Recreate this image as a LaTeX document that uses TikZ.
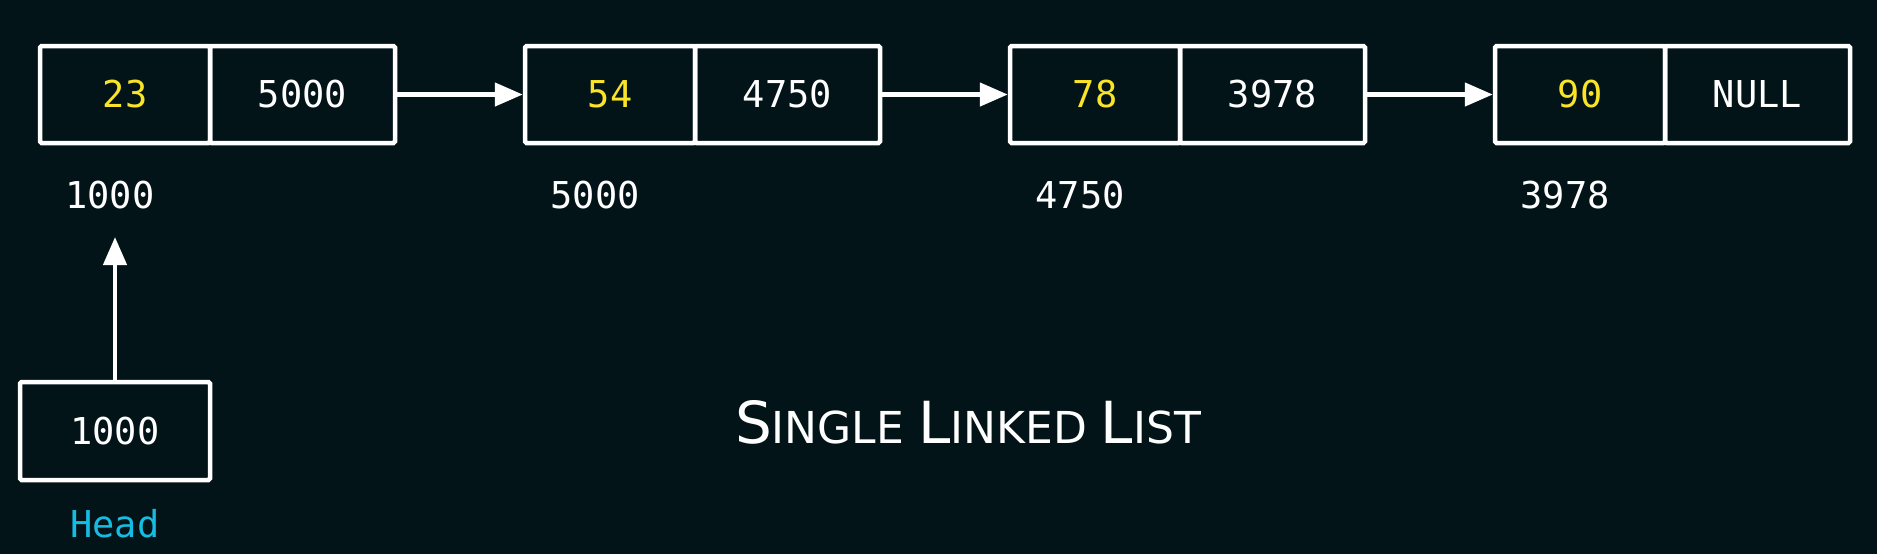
\documentclass[tikz,border=0pt]{standalone}
\usepackage{fontspec}
\setmainfont{DejaVu Sans}
\setmonofont{DejaVu Sans Mono}
\usetikzlibrary{arrows.meta,positioning,calc}
\definecolor{BgClr}{RGB}{2,20,24}
\definecolor{ValueClr}{RGB}{250,228,40}
\definecolor{HeadClr}{RGB}{22,188,226}
\newcommand{\TitleSC}[2]{{\fontsize{29pt}{31pt}\selectfont #1}{\fontsize{22pt}{25pt}\selectfont #2}}

\begin{document}
\begin{tikzpicture}[x=0.5pt,y=-0.5pt,
  cell/.style={draw=white,line width=2.25pt,rounded corners=0.8pt,inner sep=0pt,outer sep=0pt,
    minimum height=48.5pt,text=white,font=\ttfamily\fontsize{18.5pt}{22pt}\selectfont},
  datacell/.style={cell,minimum width=85pt,text=ValueClr},
  ptrcell/.style={cell,minimum width=92.5pt},
  addr/.style={inner sep=0pt,text=white,font=\ttfamily\fontsize{18.5pt}{22pt}\selectfont},
  link/.style={draw=white,line width=2.25pt,shorten >=1.1pt,-{Triangle[length=14pt,width=11.5pt]}}]

\fill[BgClr] (0,0) rectangle (1877,554);
\useasboundingbox (0,0) rectangle (1877,554);

% the list
\node[datacell] (d1) at (125,94.5) {23};
\node[ptrcell,right=0pt of d1] (p1) {5000};
\node[datacell,right=65pt of p1] (d2) {54};
\node[ptrcell,right=0pt of d2] (p2) {4750};
\node[datacell,right=65pt of p2] (d3) {78};
\node[ptrcell,right=0pt of d3] (p3) {3978};
\node[datacell,right=65pt of p3] (d4) {90};
\node[ptrcell,right=0pt of d4] (p4) {NULL};

\draw[link] (p1) -- (d2);
\draw[link] (p2) -- (d3);
\draw[link] (p3) -- (d4);

% addresses
\node[addr] (a1) at ($(d1.south)+(-15,52)$) {1000};
\node[addr] (a2) at ($(d2.south)+(-15,52)$) {5000};
\node[addr] (a3) at ($(d3.south)+(-15,52)$) {4750};
\node[addr] (a4) at ($(d4.south)+(-15,52)$) {3978};

% head pointer
\node[cell,minimum width=95pt,minimum height=49pt] (head) at (115,431) {1000};
\node[addr,text=HeadClr] (headlbl) at ($(head.south)+(0,44)$) {Head};
\coordinate (headtip) at (115,237);
\draw[link,shorten >=0pt] (head) -- (headtip);

\node[anchor=base,text=white,font=\fontsize{22pt}{25pt}\selectfont] (title) at (968,443)
  {\TitleSC{S}{INGLE} \TitleSC{L}{INKED} \TitleSC{L}{IST}};

\end{tikzpicture}
\end{document}
